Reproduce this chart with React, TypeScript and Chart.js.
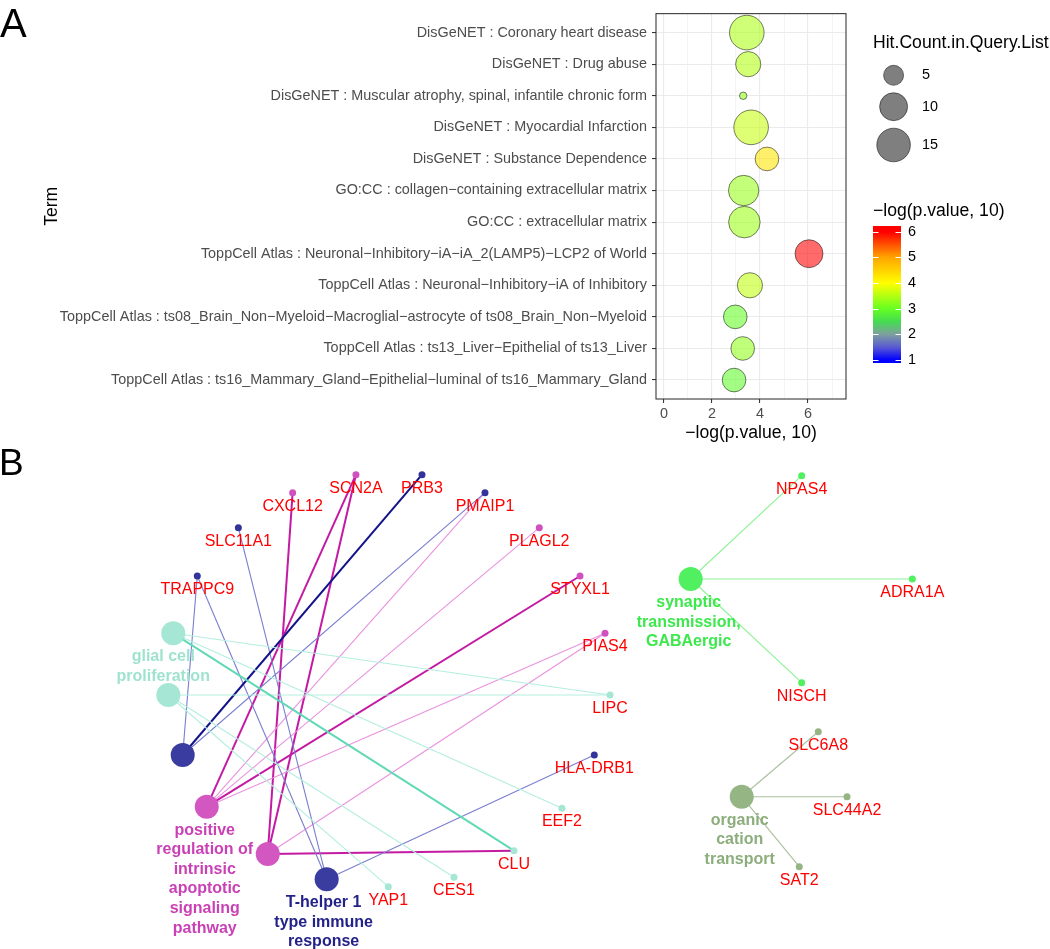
import React, { useEffect, useRef } from "react";
import { Chart, registerables } from "chart.js";
Chart.register(...registerables);

const FONT = "'Liberation Sans', Arial, Helvetica, sans-serif";

// ---------------- Panel A data ----------------
const termLabels = [
  "DisGeNET : Coronary heart disease",
  "DisGeNET : Drug abuse",
  "DisGeNET : Muscular atrophy, spinal, infantile chronic form",
  "DisGeNET : Myocardial Infarction",
  "DisGeNET : Substance Dependence",
  "GO:CC : collagen\u2212containing extracellular matrix",
  "GO:CC : extracellular matrix",
  "ToppCell Atlas : Neuronal\u2212Inhibitory\u2212iA\u2212iA_2(LAMP5)\u2212LCP2 of World",
  "ToppCell Atlas : Neuronal\u2212Inhibitory\u2212iA of Inhibitory",
  "ToppCell Atlas : ts08_Brain_Non\u2212Myeloid\u2212Macroglial\u2212astrocyte of ts08_Brain_Non\u2212Myeloid",
  "ToppCell Atlas : ts13_Liver\u2212Epithelial of ts13_Liver",
  "ToppCell Atlas : ts16_Mammary_Gland\u2212Epithelial\u2212luminal of ts16_Mammary_Gland",
];
const negLogP = [3.45, 3.51, 3.3, 3.63, 4.29, 3.32, 3.35, 6.04, 3.58, 2.97, 3.28, 2.92];
const hitCount = [16, 8, 2, 16, 7, 12, 13, 10, 8, 7, 7, 7];
const xTickValues = [0, 1, 2, 3, 4, 5, 6, 7];
const xTickLabels = ["0", "", "2", "", "4", "", "6", ""];
const sizeLegendValues = [5, 10, 15];
const colorbarTicks = [1, 2, 3, 4, 5, 6];
const colorStopValues = [1, 1.5, 2, 2.5, 3, 4, 5, 6];
const colorStopColors = ["#0000FF", "#5A5AD2", "#7F9F9F", "#44DC50", "#66FF22", "#FFFF00", "#FFA500", "#FF0000"];
const xTitle = "\u2212log(p.value, 10)";
const sizeTitle = "Hit.Count.in.Query.List";
const colorTitle = "\u2212log(p.value, 10)";

// ---------------- Panel B data ----------------
const geneNames = ["SCN2A", "PRB3", "CXCL12", "PMAIP1", "SLC11A1", "PLAGL2", "TRAPPC9", "STYXL1", "PIAS4", "LIPC", "HLA-DRB1", "EEF2", "CLU", "CES1", "YAP1", "NPAS4", "ADRA1A", "NISCH", "SLC6A8", "SLC44A2", "SAT2"];
const geneX = [33.9, 40.19, 27.87, 46.19, 22.7, 51.36, 18.79, 55.24, 57.62, 58.1, 56.6, 53.52, 48.95, 43.24, 36.98, 76.35, 86.89, 76.35, 77.93, 80.67, 76.12];
const geneY = [93.18, 93.18, 89.65, 89.65, 82.77, 82.77, 73.28, 73.28, 62.02, 49.9, 38.11, 27.64, 19.31, 14.09, 12.24, 92.99, 72.69, 52.32, 42.69, 29.92, 16.17];
const geneTerm = [3, 2, 3, 2, 2, 3, 2, 3, 3, 0, 2, 0, 0, 0, 0, 6, 6, 6, 7, 7, 7];

const netTermX = [16.5, 16.03, 17.4, 19.69, 25.5, 31.11, 65.78, 70.64];
const netTermY = [62.02, 49.9, 38.11, 27.96, 18.66, 13.69, 72.69, 29.92];
const netTermLabels = [
  ["glial cell", "proliferation"],
  [],
  [],
  ["positive", "regulation of", "intrinsic", "apoptotic", "signaling", "pathway"],
  [],
  ["T-helper 1", "type immune", "response"],
  ["synaptic", "transmission,", "GABAergic"],
  ["organic", "cation", "transport"],
];
const netTermFill = ["#A6E6D4", "#A6E6D4", "#3A3CA0", "#D357C0", "#D357C0", "#3A3CA0", "#50F060", "#95B585"];
const netTermText = ["#9FE3CF", "", "", "#C941B5", "", "#22228A", "#3CE84C", "#8CAD7C"];
const netLabelNudge = [-10, 0, 0, -2, 0, -3, -2, -2];
const edgeThin = ["#B4EEDF", "#B4EEDF", "#7A7ECF", "#E992DE", "#E992DE", "#7A7ECF", "#8DF294", "#A9C09D"];
const edgeThick = ["#62D9B5", "#62D9B5", "#14148A", "#C41AA3", "#C41AA3", "#14148A", "#8DF294", "#A9C09D"];
const geneDotColor = ["#A6E6D4", "#A6E6D4", "#33339A", "#D050C0", "#D050C0", "#33339A", "#50F060", "#95B585"];

// [term, gene, heavy]
const edgeTerm = [0, 0, 0, 1, 1, 1, 2, 2, 2, 5, 5, 5, 3, 3, 3, 3, 3, 4, 4, 4, 4, 6, 6, 6, 7, 7, 7];
const edgeGene = [9, 11, 12, 9, 13, 14, 1, 6, 3, 6, 4, 10, 0, 7, 3, 5, 8, 2, 0, 12, 8, 15, 16, 17, 18, 19, 20];
const edgeHeavy = [0, 0, 1, 0, 0, 0, 1, 0, 0, 0, 0, 0, 1, 1, 0, 0, 0, 1, 1, 1, 0, 0, 0, 0, 0, 0, 0];

// ---------------- helpers ----------------
const hexToRgb = (h: string) => [parseInt(h.slice(1, 3), 16), parseInt(h.slice(3, 5), 16), parseInt(h.slice(5, 7), 16)];
function valueColor(v: number): number[] {
  const n = colorStopValues.length;
  if (v <= colorStopValues[0]) return hexToRgb(colorStopColors[0]);
  if (v >= colorStopValues[n - 1]) return hexToRgb(colorStopColors[n - 1]);
  for (let i = 0; i < n - 1; i++) {
    if (v <= colorStopValues[i + 1]) {
      const t = (v - colorStopValues[i]) / (colorStopValues[i + 1] - colorStopValues[i]);
      const a = hexToRgb(colorStopColors[i]);
      const b = hexToRgb(colorStopColors[i + 1]);
      return a.map((c, k) => Math.round(c + (b[k] - c) * t));
    }
  }
  return [0, 0, 0];
}
const rgba = (c: number[], a: number) => `rgba(${c[0]},${c[1]},${c[2]},${a})`;

const R_MIN = 3.7, R_MAX = 17.3;
const N_MIN = Math.min(...hitCount), N_MAX = Math.max(...hitCount);
const sizeOf = (n: number) => R_MIN + Math.sqrt((n - N_MIN) / (N_MAX - N_MIN)) * (R_MAX - R_MIN);

const CB_MIN = 0.88, CB_MAX = 6.23;
const CB = { left: 873, right: 901, top: 226, bottom: 363 };

const panelAPlugin = {
  id: "panelA",
  afterDatasetsDraw(chart: any) {
    const { ctx, chartArea: ca } = chart;
    ctx.save();
    ctx.strokeStyle = "#333333";
    ctx.lineWidth = 1.07;
    ctx.strokeRect(ca.left, ca.top, ca.right - ca.left, ca.bottom - ca.top);
    ctx.restore();
  },
  afterDraw(chart: any) {
    const { ctx } = chart;
    ctx.save();
    // Panel letter
    ctx.fillStyle = "#000";
    ctx.font = `40px ${FONT}`;
    ctx.textAlign = "left";
    ctx.textBaseline = "alphabetic";
    ctx.fillText("A", 0, 37.3);

    // Size legend
    ctx.font = `17.6px ${FONT}`;
    ctx.textBaseline = "middle";
    ctx.fillText(sizeTitle, 873, 43);
    const ys = [75.3, 106.7, 145];
    sizeLegendValues.forEach((v, i) => {
      ctx.beginPath();
      ctx.arc(893.6, ys[i], sizeOf(v), 0, Math.PI * 2);
      ctx.fillStyle = "rgba(0,0,0,0.5)";
      ctx.fill();
      ctx.strokeStyle = "rgba(0,0,0,0.5)";
      ctx.lineWidth = 1;
      ctx.stroke();
      ctx.fillStyle = "#000";
      ctx.font = `14.4px ${FONT}`;
      ctx.fillText(String(v), 922, ys[i]);
    });

    // Colour bar
    ctx.font = `17.6px ${FONT}`;
    ctx.fillStyle = "#000";
    ctx.fillText(colorTitle, 873, 211);
    const grad = ctx.createLinearGradient(0, CB.bottom, 0, CB.top);
    grad.addColorStop(0, rgba(valueColor(CB_MIN), 1));
    colorStopValues.forEach((v) => {
      const t = (v - CB_MIN) / (CB_MAX - CB_MIN);
      if (t > 0 && t < 1) grad.addColorStop(t, rgba(valueColor(v), 1));
    });
    grad.addColorStop(1, rgba(valueColor(CB_MAX), 1));
    ctx.fillStyle = grad;
    ctx.fillRect(CB.left, CB.top, CB.right - CB.left, CB.bottom - CB.top);
    const yOf = (v: number) => CB.bottom - ((v - CB_MIN) / (CB_MAX - CB_MIN)) * (CB.bottom - CB.top);
    ctx.strokeStyle = "#FFFFFF";
    ctx.lineWidth = 1;
    ctx.font = `14.4px ${FONT}`;
    colorbarTicks.forEach((v) => {
      const y = Math.round(yOf(v)) + 0.5;
      ctx.beginPath();
      ctx.moveTo(CB.left, y);
      ctx.lineTo(CB.left + 5.5, y);
      ctx.moveTo(CB.right - 5.5, y);
      ctx.lineTo(CB.right, y);
      ctx.stroke();
      ctx.fillStyle = "#000";
      ctx.fillText(String(v), 908, yOf(v));
    });
    ctx.restore();
  },
};

const panelBPlugin = {
  id: "panelB",
  afterDatasetsDraw(chart: any) {
    const { ctx, scales } = chart;
    const px = (v: number) => scales.x.getPixelForValue(v);
    const py = (v: number) => scales.y.getPixelForValue(v);
    ctx.save();
    ctx.textAlign = "center";
    ctx.textBaseline = "middle";
    // gene labels
    ctx.font = `16px ${FONT}`;
    ctx.fillStyle = "#FF0000";
    geneNames.forEach((g, i) => {
      ctx.fillText(g, px(geneX[i]), py(geneY[i]) + 13.5);
    });
    // term labels
    ctx.font = `bold 16px ${FONT}`;
    netTermLabels.forEach((lines, i) => {
      ctx.fillStyle = netTermText[i];
      lines.forEach((ln, k) => {
        ctx.fillText(ln, px(netTermX[i]) + netLabelNudge[i], py(netTermY[i]) + 23.5 + k * 19.6);
      });
    });
    // panel letter
    ctx.fillStyle = "#000";
    ctx.textAlign = "left";
    ctx.textBaseline = "alphabetic";
    ctx.font = `37px ${FONT}`;
    ctx.fillText("B", -1, 35);
    ctx.restore();
  },
};

export default function App() {
  const refA = useRef<HTMLCanvasElement>(null);
  const refB = useRef<HTMLCanvasElement>(null);

  useEffect(() => {
    Chart.defaults.font.family = FONT;

    const chartA = new Chart(refA.current as HTMLCanvasElement, {
      type: "bubble",
      data: {
        datasets: [
          {
            data: negLogP.map((v, i) => ({ x: v, y: i + 1, r: sizeOf(hitCount[i]) })),
            backgroundColor: negLogP.map((v) => rgba(valueColor(v), 0.58)),
            borderColor: "rgba(0,0,0,0.5)",
            borderWidth: 1,
          },
        ],
      },
      options: {
        animation: false,
        responsive: false,
        events: [],
        layout: { padding: { left: 0, top: 1.5, right: 204, bottom: 0 }, autoPadding: false },
        plugins: { legend: { display: false }, tooltip: { enabled: false } },
        scales: {
          x: {
            type: "linear",
            min: -0.33,
            max: 7.58,
            bounds: "data",
            afterBuildTicks: (s: any) => {
              s.ticks = xTickValues.map((v) => ({ value: v }));
            },
            afterFit: (s: any) => {
              s.height = 46;
            },
            ticks: {
              callback: (v: any) => xTickLabels[xTickValues.indexOf(Number(v))],
              color: "#4D4D4D",
              font: { size: 14.4 },
              padding: 2,
              maxRotation: 0,
              autoSkip: false,
            },
            grid: {
              color: "#EBEBEB",
              lineWidth: (c: any) => (c.tick && c.tick.value % 2 === 0 ? 1.1 : 0.55),
              tickColor: (c: any) => (c.tick && c.tick.value % 2 === 0 ? "#333333" : "rgba(0,0,0,0)"),
              tickLength: 4,
              tickWidth: 1.07,
            },
            border: { display: false },
            title: { display: true, text: xTitle, color: "#000", font: { size: 17.6 }, padding: { top: 0, bottom: 1.5 } },
          },
          y: {
            type: "linear",
            reverse: true,
            min: 0.4,
            max: 12.6,
            bounds: "data",
            afterBuildTicks: (s: any) => {
              s.ticks = termLabels.map((_, i) => ({ value: i + 1 }));
            },
            afterFit: (s: any) => {
              s.width = 656;
            },
            ticks: {
              callback: (v: any) => termLabels[Number(v) - 1] ?? "",
              color: "#4D4D4D",
              font: { size: 14.4 },
              padding: 5,
              autoSkip: false,
            },
            grid: { color: "#EBEBEB", lineWidth: 1.1, tickColor: "#333333", tickLength: 4, tickWidth: 1.07 },
            border: { display: false },
            title: { display: true, text: "Term", color: "#000", font: { size: 17.6 }, padding: { top: 41.5, bottom: 0 } },
          },
        },
      } as any,
      plugins: [panelAPlugin],
    });

    const edgeDatasets = edgeTerm.map((t, i) => {
      const g = edgeGene[i];
      const heavy = edgeHeavy[i] === 1;
      return {
        type: "line" as const,
        data: [
          { x: netTermX[t], y: netTermY[t] },
          { x: geneX[g], y: geneY[g] },
        ],
        borderColor: heavy ? edgeThick[t] : edgeThin[t],
        borderWidth: heavy ? 2 : 1.1,
        pointRadius: 0,
        showLine: true,
        fill: false,
        order: 3,
      };
    });

    const chartB = new Chart(refB.current as HTMLCanvasElement, {
      type: "scatter",
      data: {
        datasets: [
          {
            data: geneNames.map((_, i) => ({ x: geneX[i], y: geneY[i] })),
            pointRadius: 3.5,
            pointBackgroundColor: geneTerm.map((t) => geneDotColor[t]),
            pointBorderWidth: 0,
            order: 0,
          },
          {
            data: netTermX.map((x, i) => ({ x, y: netTermY[i] })),
            pointRadius: 12,
            pointBackgroundColor: netTermFill,
            pointBorderWidth: 0,
            order: 1,
          },
          ...edgeDatasets,
        ] as any,
      },
      options: {
        animation: false,
        responsive: false,
        events: [],
        layout: { padding: 0, autoPadding: false },
        plugins: { legend: { display: false }, tooltip: { enabled: false } },
        scales: {
          x: { type: "linear", min: 0, max: 100, display: false },
          y: { type: "linear", min: 0, max: 100, display: false },
        },
      } as any,
      plugins: [panelBPlugin],
    });

    return () => {
      chartA.destroy();
      chartB.destroy();
    };
  }, []);

  return (
    <div style={{ position: "fixed", left: 0, top: 0, width: 1050, height: 949, background: "#FFFFFF", overflow: "hidden" }}>
      <canvas ref={refA} width={1050} height={445} style={{ position: "absolute", left: 0, top: 0, width: 1050, height: 445 }} />
      <canvas ref={refB} width={1050} height={509} style={{ position: "absolute", left: 0, top: 440, width: 1050, height: 509 }} />
    </div>
  );
}
